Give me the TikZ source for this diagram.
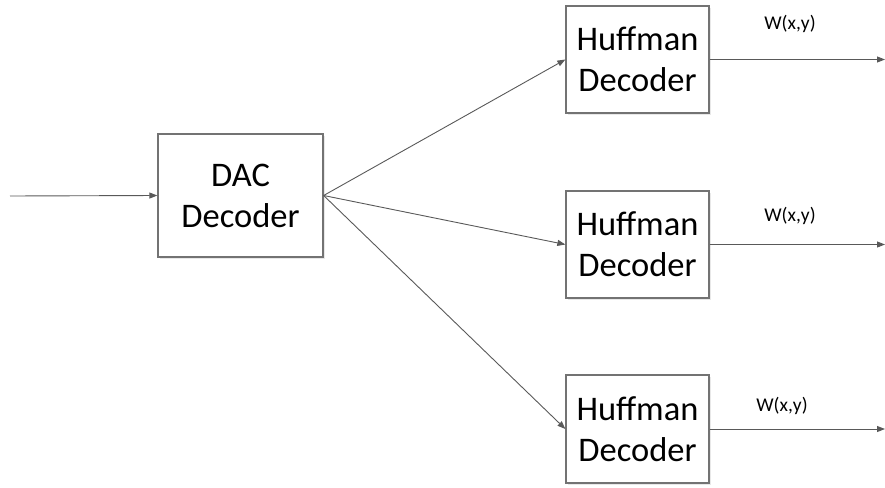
\documentclass[tikz,border=0pt]{standalone}
\usepackage{fontspec}
\setmainfont{Carlito}
\usetikzlibrary{arrows.meta,shadows}
\begin{document}
\begin{tikzpicture}[x=1pt,y=-1pt,
  block/.style={draw=black!55,line width=1.3pt,fill=white,align=center,
    inner sep=0pt,font=\fontsize{34.5}{41}\selectfont,
    drop shadow={opacity=0.18,shadow xshift=2pt,shadow yshift=-2pt}},
  link/.style={draw=black!65,line width=0.9pt,
    -{Triangle[length=8pt,width=6pt]}},
  sig/.style={font=\fontsize{19.5}{22}\selectfont}]
\useasboundingbox (0,0) rectangle (885,487);
% decoder blocks
\node[block,minimum width=165pt,minimum height=123pt] (dac) at (240.5,195.5) {DAC\\Decoder};
\node[block,minimum width=143pt,minimum height=107pt] (h1) at (637.5,59.5) {Huffman\\Decoder};
\node[block,minimum width=143pt,minimum height=107pt] (h2) at (637.5,244.5) {Huffman\\Decoder};
\node[block,minimum width=143pt,minimum height=108pt] (h3) at (637.5,429) {Huffman\\Decoder};
% input and output ends
\coordinate (in) at (10,196);
\coordinate (o1) at (885,59.5);
\coordinate (o2) at (885,244.5);
\coordinate (o3) at (885,429);
% connectors
\draw[link] (in) -- (dac.west);
\draw[link] (dac.east) -- (h1.west);
\draw[link] (dac.east) -- (h2.west);
\draw[link] (dac.east) -- (h3.west);
\draw[link] (h1.east) -- (o1);
\draw[link] (h2.east) -- (o2);
\draw[link] (h3.east) -- (o3);
% output labels
\node[sig] (w1) at (790,24) {W(x,y)};
\node[sig] (w2) at (790,216) {W(x,y)};
\node[sig] (w3) at (782,406) {W(x,y)};
\end{tikzpicture}
\end{document}
